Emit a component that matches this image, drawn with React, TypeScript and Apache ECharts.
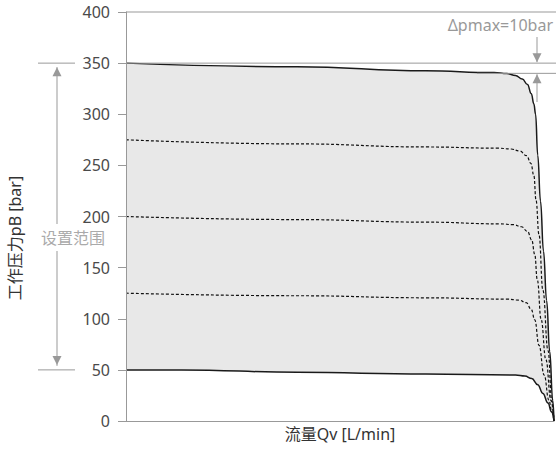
import React, { useEffect, useRef } from "react";
import * as echarts from "echarts";

// Flow (x, arbitrary 0-100 scale) vs working pressure pB [bar]
const topCurve: [number, number][] = [
  [0, 350], [40, 346.5], [70, 342.5], [86, 340.8], [89, 339.8], [91, 338], [92.6, 334.5],
  [93.8, 329], [94.7, 320], [95.3, 310], [95.7, 300], [96.2, 260], [96.85, 215],
  [97.55, 166], [98.27, 118], [99, 68], [99.7, 20], [100, 0],
];
const curve275: [number, number][] = [
  [0, 275], [40, 271], [70, 268], [87, 266.8], [90, 266], [92, 264], [93.6, 259.5],
  [94.6, 252], [95.3, 240], [95.8, 216], [96.5, 182], [97.4, 128], [98.6, 69], [99.5, 20], [100, 0],
];
const curve200: [number, number][] = [
  [0, 200], [40, 197], [70, 194.5], [87.5, 192.8], [90.5, 192], [92.4, 190], [93.8, 185.5],
  [94.8, 177], [95.5, 163], [96.1, 138], [97.0, 99], [98.1, 60], [99.3, 20], [100, 0],
];
const curve125: [number, number][] = [
  [0, 125], [40, 122.5], [70, 120.5], [89, 119.2], [91.8, 118.2], [93.5, 115.8], [94.7, 109],
  [95.5, 99], [96.5, 74], [97.7, 45], [98.8, 20.5], [99.5, 9], [100, 0],
];
const bottomCurve: [number, number][] = [
  [0, 50], [13, 50], [40, 47.6], [70, 46], [91, 45], [93.2, 44], [94.8, 41.5], [96.2, 35.5],
  [97.4, 27], [98.6, 17.5], [99.4, 9], [100, 0],
];
const settingRange = [50, 350];
const deltaLevels = [350, 340];
const topLevel = 400;

const FONT = "'Noto Sans', 'Noto Sans CJK SC', sans-serif";

export default function App() {
  const ref = useRef<HTMLDivElement>(null);
  useEffect(() => {
    const el = ref.current;
    if (!el) return;
    const chart = echarts.init(el, null, { renderer: "svg" });
    const smooth = 0.45;
    const lineSeries = (data: [number, number][], dashed: boolean) => ({
      type: "line",
      data,
      smooth,
      smoothMonotone: "x",
      symbol: "none",
      silent: true,
      lineStyle: dashed
        ? { color: "#111", width: 1.2, type: [3, 2] }
        : { color: "#1a1a1a", width: 1.5 },
    });
    chart.setOption({
      animation: false,
      textStyle: { fontFamily: FONT },
      grid: { left: 126, right: 2, top: 12, bottom: 30, outerBoundsMode: "none" },
      xAxis: {
        type: "value",
        min: 0,
        max: 100,
        z: 5,
        axisLabel: { show: false },
        axisTick: { show: false },
        splitLine: { show: false },
        axisLine: { lineStyle: { color: "#999", width: 1 } },
        name: "流量Qv [L/min]",
        nameLocation: "middle",
        nameGap: 5,
        nameTextStyle: { color: "#333", fontSize: 16, fontFamily: FONT, verticalAlign: "top" },
      },
      yAxis: {
        type: "value",
        min: 0,
        max: 400,
        interval: 50,
        z: 5,
        axisLine: { show: true, lineStyle: { color: "#999", width: 1 } },
        axisTick: { show: true, length: 8, lineStyle: { color: "#999" } },
        axisLabel: { margin: 16, color: "#4a4a4a", fontSize: 16, fontFamily: FONT },
        splitLine: { show: false },
      },
      series: [
        {
          type: "line", data: topCurve, smooth, smoothMonotone: "x", symbol: "none", silent: true,
          lineStyle: { width: 0, opacity: 0 },
          areaStyle: { color: "#e8e8e8", opacity: 1, origin: "start" },
        },
        {
          type: "line", data: bottomCurve, smooth, smoothMonotone: "x", symbol: "none", silent: true,
          lineStyle: { width: 0, opacity: 0 },
          areaStyle: { color: "#ffffff", opacity: 1, origin: "start" },
        },
        lineSeries(curve275, true),
        lineSeries(curve200, true),
        lineSeries(curve125, true),
        lineSeries(topCurve, false),
        lineSeries(bottomCurve, false),
      ],
    });

    const py = (v: number) => chart.convertToPixel({ yAxisIndex: 0 }, v) as number;
    const px = (v: number) => chart.convertToPixel({ xAxisIndex: 0 }, v) as number;
    const x0 = px(0);
    const xEnd = 556;
    const yTop = py(topLevel);
    const yHi = py(settingRange[1]);
    const yLo = py(settingRange[0]);
    const yD1 = py(deltaLevels[0]);
    const yD2 = py(deltaLevels[1]);
    const gray = "#999";
    const refLine = (x1: number, y1: number, x2: number, y2: number, color = gray) => ({
      type: "line", silent: true, z: 10,
      shape: { x1, y1, x2, y2 },
      style: { stroke: color, lineWidth: 1 },
    });
    const arrowHead = (x: number, tipY: number, dir: 1 | -1) => ({
      type: "polygon", silent: true, z: 10,
      shape: { points: [[x, tipY], [x - 4.5, tipY - dir * 9], [x + 4.5, tipY - dir * 9]] },
      style: { fill: gray },
    });
    const axX = 57;
    const textMidY = 238;
    const rx = 537;
    chart.setOption({
      graphic: [
        refLine(x0, yTop, xEnd, yTop),
        refLine(x0, yHi, xEnd, yHi),
        refLine(px(82), yD2, xEnd, yD2),
        refLine(38, yHi, 75, yHi),
        refLine(38, yLo, 75, yLo),
        refLine(axX, yHi + 4, axX, textMidY - 14),
        refLine(axX, textMidY + 13, axX, yLo - 4),
        arrowHead(axX, yHi + 4, -1),
        arrowHead(axX, yLo - 5, 1),
        {
          type: "text", silent: true, z: 10, x: 73, y: textMidY,
          style: { text: "设置范围", fill: "#aaa", fontSize: 16, fontFamily: FONT, align: "center", verticalAlign: "middle" },
        },
        {
          type: "text", silent: true, z: 10, x: 15, y: textMidY, rotation: Math.PI / 2,
          style: { text: "工作压力pB [bar]", fill: "#333", fontSize: 16, fontFamily: FONT, align: "center", verticalAlign: "middle" },
        },
        refLine(rx, 37, rx, yD1 - 1),
        arrowHead(rx, yD1 - 1, 1),
        refLine(rx, yD2 + 1, rx, 102),
        arrowHead(rx, yD2 + 1, -1),
        {
          type: "text", silent: true, z: 10, x: 553, y: 25,
          style: { text: "Δpmax=10bar", fill: "#999", fontSize: 16, fontFamily: FONT, align: "right", verticalAlign: "middle" },
        },
      ],
    });
    return () => chart.dispose();
  }, []);
  return (
    <div
      ref={ref}
      style={{ position: "absolute", left: 0, top: 0, width: 556, height: 451, background: "#fff" }}
    />
  );
}
